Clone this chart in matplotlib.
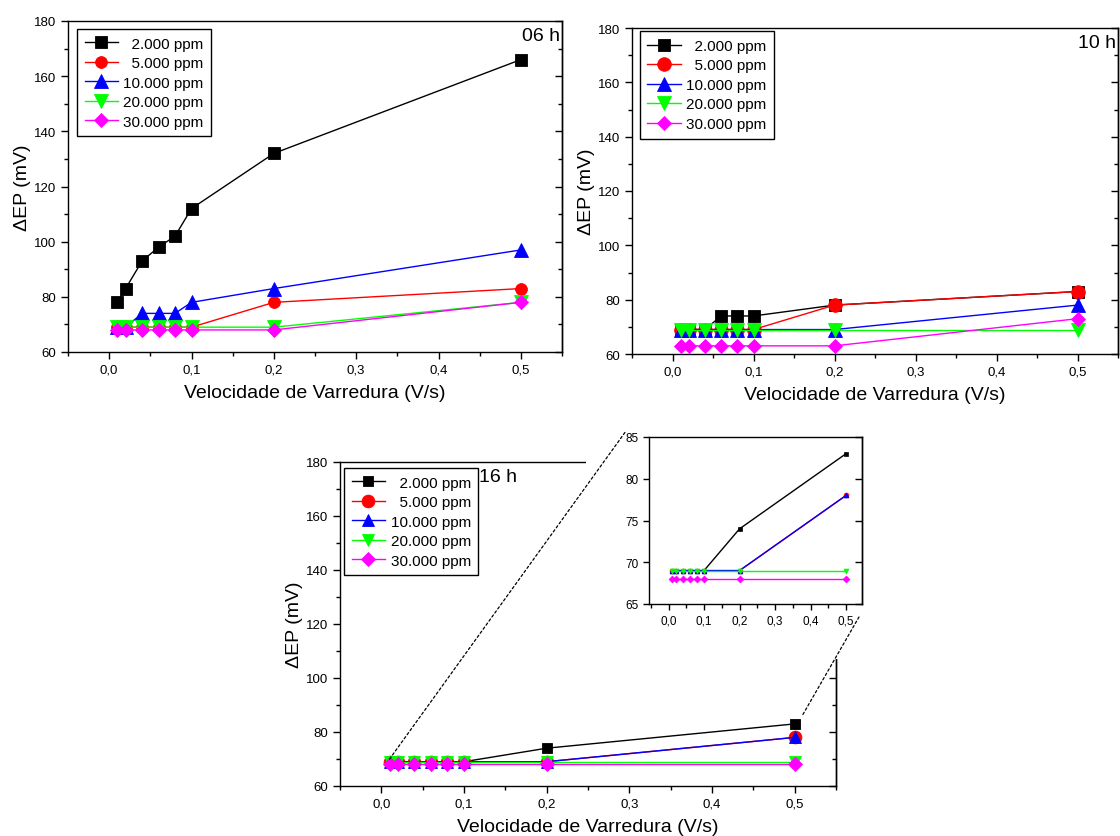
import matplotlib
matplotlib.use('Agg')
import matplotlib.pyplot as plt
from matplotlib.ticker import MultipleLocator
from matplotlib.patches import Rectangle, ConnectionPatch

plt.rcParams['font.family'] = ['Liberation Sans', 'DejaVu Sans']

# ---------------- data ----------------
scan_rate = [0.01, 0.02, 0.04, 0.06, 0.08, 0.1, 0.2, 0.5]
series_labels = ['  2.000 ppm', '  5.000 ppm', '10.000 ppm', '20.000 ppm', '30.000 ppm']
colors = ['#000000', '#FF0000', '#0000FF', '#00FF00', '#FF00FF']
markers = ['s', 'o', '^', 'v', 'D']

dep_06h_2000 = [78, 83, 93, 98, 102, 112, 132, 166]
dep_06h_5000 = [69, 69, 69, 69, 69, 69, 78, 83]
dep_06h_10000 = [69, 69, 74, 74, 74, 78, 83, 97]
dep_06h_20000 = [69, 69, 69, 69, 69, 69, 69, 78]
dep_06h_30000 = [68, 68, 68, 68, 68, 68, 68, 78]

dep_10h_2000 = [69, 69, 69, 74, 74, 74, 78, 83]
dep_10h_5000 = [69, 69, 69, 69, 69, 69, 78, 83]
dep_10h_10000 = [69, 69, 69, 69, 69, 69, 69, 78]
dep_10h_20000 = [69, 69, 69, 69, 69, 69, 69, 69]
dep_10h_30000 = [63, 63, 63, 63, 63, 63, 63, 73]

dep_16h_2000 = [69, 69, 69, 69, 69, 69, 74, 83]
dep_16h_5000 = [69, 69, 69, 69, 69, 69, 69, 78]
dep_16h_10000 = [69, 69, 69, 69, 69, 69, 69, 78]
dep_16h_20000 = [69, 69, 69, 69, 69, 69, 69, 69]
dep_16h_30000 = [68, 68, 68, 68, 68, 68, 68, 68]

panel_06h = [dep_06h_2000, dep_06h_5000, dep_06h_10000, dep_06h_20000, dep_06h_30000]
panel_10h = [dep_10h_2000, dep_10h_5000, dep_10h_10000, dep_10h_20000, dep_10h_30000]
panel_16h = [dep_16h_2000, dep_16h_5000, dep_16h_10000, dep_16h_20000, dep_16h_30000]

# ---------------- figure ----------------
W, H = 1120, 837
fig = plt.figure(figsize=(W / 100, H / 100), dpi=100)


def px_rect(left, top, right, bottom):
    return [left / W, 1 - bottom / H, (right - left) / W, (bottom - top) / H]


def style_axes(ax, ymin, ymax, ymaj, ymin_minor, tick_fs=9.5):
    ax.set_xlim(-0.05, 0.55)
    ax.set_ylim(ymin, ymax)
    ax.xaxis.set_major_locator(MultipleLocator(0.1))
    ax.xaxis.set_minor_locator(MultipleLocator(0.05))
    ax.yaxis.set_major_locator(MultipleLocator(ymaj))
    ax.yaxis.set_minor_locator(MultipleLocator(ymin_minor))
    ax.xaxis.set_major_formatter(plt.FuncFormatter(lambda v, p: f"{v:.1f}".replace('.', ',')))
    ax.tick_params(which='major', direction='out', length=5, width=1, labelsize=tick_fs)
    ax.tick_params(which='minor', direction='out', length=3, width=1)
    for s in ax.spines.values():
        s.set_linewidth(1.0)
    sec = ax.secondary_yaxis('right')
    sec.yaxis.set_major_locator(MultipleLocator(ymaj))
    sec.yaxis.set_minor_locator(MultipleLocator(ymin_minor))
    sec.tick_params(which='major', direction='in', length=5, width=1, labelright=False)
    sec.tick_params(which='minor', direction='in', length=3, width=1)
    sec.spines['right'].set_linewidth(1.0)


def draw_panel(ax, data, msizes, tag, tag_xy, tag_ha, leg_anchor):
    for vals, lab, c, m, ms in zip(data, series_labels, colors, markers, msizes):
        ax.plot(scan_rate, vals, color=c, marker=m, markersize=ms, lw=1.0,
                markeredgecolor=c, markeredgewidth=0.6, label=lab)
    style_axes(ax, 60, 180, 20, 10)
    ax.set_xlabel('Velocidade de Varredura (V/s)', fontsize=14, labelpad=6)
    ax.set_ylabel('ΔEP (mV)', fontsize=14, labelpad=2)
    ax.text(tag_xy[0], tag_xy[1], tag, transform=ax.transAxes, fontsize=14,
            ha=tag_ha, va='center')
    leg = ax.legend(loc='upper left', bbox_to_anchor=leg_anchor, borderaxespad=0,
                    fontsize=11, frameon=True, fancybox=False, framealpha=1,
                    edgecolor='black', numpoints=1, handlelength=2.2,
                    handletextpad=0.35, labelspacing=0.36, borderpad=0.5)
    leg.get_frame().set_linewidth(1.0)


# Panel 06 h
ax1 = fig.add_axes(px_rect(68, 22, 562, 353))
draw_panel(ax1, panel_06h, [8, 8.5, 9.5, 9.5, 7], '06 h', (0.995, 0.955), 'right',
           (0.018, 0.976))

# Panel 10 h
ax2 = fig.add_axes(px_rect(632, 29, 1118, 355))
draw_panel(ax2, panel_10h, [8.6, 9.8, 9.8, 9.8, 7.2], '10 h', (0.995, 0.957), 'right',
           (0.016, 0.99))

# Panel 16 h
ax3 = fig.add_axes(px_rect(340, 463, 836, 787))
draw_panel(ax3, panel_16h, [7.2, 9.2, 9.2, 9.2, 7.2], '16 h', (0.28, 0.955), 'left',
           (0.008, 0.981))

# white cover behind the inset (hides part of 16 h frame)
cover = Rectangle((586 / W, 1 - 660 / H), (875 - 586) / W, (660 - 452) / H,
                  transform=fig.transFigure, facecolor='white', edgecolor='none',
                  zorder=1)
fig.add_artist(cover)

# Inset
axi = fig.add_axes(px_rect(649, 438, 862, 605), zorder=2)
for vals, c, m in zip(panel_16h, colors, markers):
    axi.plot(scan_rate, vals, color=c, marker=m, markersize=3.5, lw=1.0,
             markeredgecolor=c, markeredgewidth=0.5)
style_axes(axi, 65, 85, 5, 5, tick_fs=8.5)
axi.tick_params(which='major', length=4)
axi.set_xlim(-0.055, 0.545)

# dotted zoom lines
con1 = ConnectionPatch(xyA=(0.01, 70), coordsA='data', axesA=ax3,
                       xyB=(626 / W, 1 - 432 / H), coordsB='figure fraction',
                       linestyle=(0, (2, 2)), color='black', lw=0.9, zorder=5)
fig.add_artist(con1)
con2 = ConnectionPatch(xyA=(0.51, 86.5), coordsA='data', axesA=ax3,
                       xyB=(859 / W, 1 - 618 / H), coordsB='figure fraction',
                       linestyle=(0, (2, 2)), color='black', lw=0.9, zorder=5)
fig.add_artist(con2)

fig.savefig('out.png', dpi=100)
